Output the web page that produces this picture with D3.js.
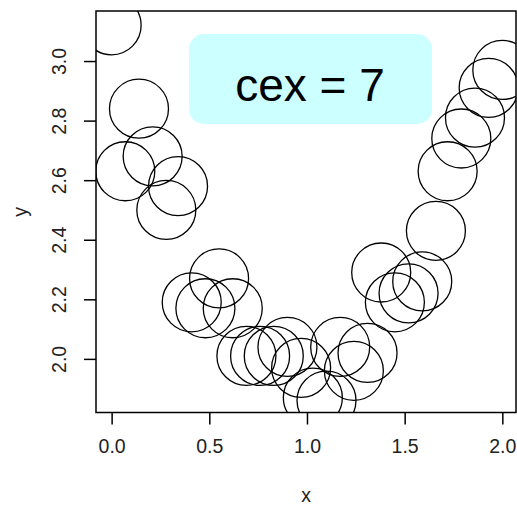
<!DOCTYPE html>
<html>
<head>
<meta charset="utf-8">
<script src="https://cdn.jsdelivr.net/npm/d3@7"></script>
<style>
  body { margin: 0; background: #fff; }
  svg { display: block; font-family: "Liberation Sans", Arial, sans-serif; }
</style>
</head>
<body>
<svg id="chart"></svg>
<script>
var xValues = [0.00, 0.07, 0.14, 0.21, 0.28, 0.34, 0.41, 0.48, 0.55, 0.62,
               0.69, 0.76, 0.83, 0.90, 0.97, 1.03, 1.10, 1.17, 1.24, 1.31,
               1.38, 1.45, 1.52, 1.59, 1.66, 1.72, 1.79, 1.86, 1.93, 2.00];
var yValues = [3.12, 2.63, 2.84, 2.68, 2.50, 2.58, 2.19, 2.17, 2.27, 2.17,
               2.01, 2.01, 2.01, 2.04, 1.97, 1.87, 1.86, 2.04, 1.96, 2.02,
               2.29, 2.19, 2.22, 2.26, 2.43, 2.63, 2.74, 2.81, 2.91, 2.97];
var xTicks = [0.0, 0.5, 1.0, 1.5, 2.0];
var yTicks = [2.0, 2.2, 2.4, 2.6, 2.8, 3.0];
var labelText = "cex = 7";

var width = 517, height = 507;
var plot = {left: 96, right: 516, top: 11, bottom: 412.5};
var radius = 29.5;
var labelFont = "19.5px";

var svg = d3.select("#chart")
    .attr("width", width)
    .attr("height", height);

var xScale = d3.scaleLinear()
    .domain([-0.08, 2.07])
    .range([plot.left, plot.right]);

var yScale = d3.scaleLinear()
    .domain([1.82, 3.168])
    .range([plot.bottom, plot.top]);

var points = xValues.map(function(x, i) { return {x: x, y: yValues[i]}; });

// clip marks to the plot box like R does
svg.append("clipPath")
    .attr("id", "plot-clip")
    .append("rect")
    .attr("x", plot.left)
    .attr("y", plot.top)
    .attr("width", plot.right - plot.left)
    .attr("height", plot.bottom - plot.top);

// label box
svg.append("rect")
    .attr("x", 189)
    .attr("y", 34)
    .attr("width", 243)
    .attr("height", 90)
    .attr("rx", 15)
    .attr("ry", 15)
    .attr("fill", "#ccffff");

svg.append("text")
    .attr("x", 310)
    .attr("y", 101)
    .attr("text-anchor", "middle")
    .style("font-size", "46px")
    .attr("fill", "#000")
    .text(labelText);

svg.append("g")
    .attr("clip-path", "url(#plot-clip)")
    .selectAll("circle")
    .data(points)
    .enter()
    .append("circle")
    .attr("cx", function(d) { return xScale(d.x); })
    .attr("cy", function(d) { return yScale(d.y); })
    .attr("r", radius)
    .attr("fill", "none")
    .attr("stroke", "#000")
    .attr("stroke-width", 1.3);

// axes
var xAxis = d3.axisBottom(xScale)
    .tickValues(xTicks)
    .tickSize(12)
    .tickPadding(15)
    .tickFormat(d3.format(".1f"));

var yAxis = d3.axisLeft(yScale)
    .tickValues(yTicks)
    .tickSize(12)
    .tickFormat(d3.format(".1f"));

var gx = svg.append("g")
    .attr("transform", "translate(0," + plot.bottom + ")")
    .call(xAxis);
gx.select(".domain").remove();
gx.selectAll("line").attr("stroke", "#000").attr("stroke-width", 1.5);
gx.selectAll("text")
    .style("font-size", labelFont)
    .attr("fill", "#222");

var gy = svg.append("g")
    .attr("transform", "translate(" + plot.left + ",0)")
    .call(yAxis);
gy.select(".domain").remove();
gy.selectAll("line").attr("stroke", "#000").attr("stroke-width", 1.5);
gy.selectAll("text")
    .style("font-size", labelFont)
    .attr("fill", "#222")
    .attr("text-anchor", "middle")
    .attr("x", null)
    .attr("y", null)
    .attr("transform", "translate(-26,0) rotate(-90)")
    .attr("dy", "-0.2em");

// plot box
svg.append("rect")
    .attr("x", plot.left)
    .attr("y", plot.top)
    .attr("width", plot.right - plot.left)
    .attr("height", plot.bottom - plot.top)
    .attr("fill", "none")
    .attr("stroke", "#000")
    .attr("stroke-width", 1.5);

// axis titles
svg.append("text")
    .attr("x", (plot.left + plot.right) / 2)
    .attr("y", 502)
    .attr("text-anchor", "middle")
    .style("font-size", labelFont)
    .attr("fill", "#222")
    .text("x");

svg.append("text")
    .attr("transform", "translate(27," + ((plot.top + plot.bottom) / 2) + ") rotate(-90)")
    .attr("text-anchor", "middle")
    .style("font-size", labelFont)
    .attr("fill", "#222")
    .text("y");
</script>
</body>
</html>
